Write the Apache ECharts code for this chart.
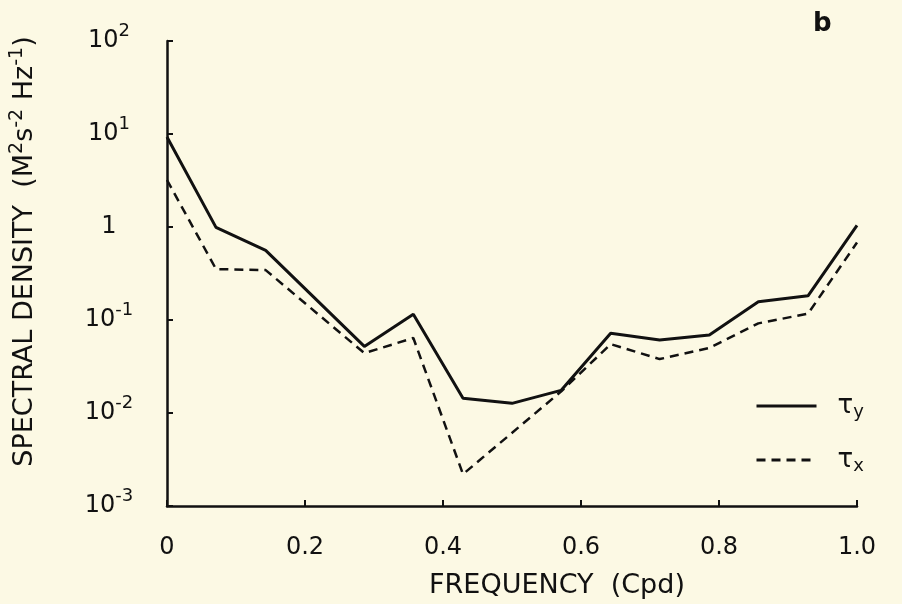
<!DOCTYPE html>
<html>
<head>
<meta charset="utf-8">
<script src="https://cdn.jsdelivr.net/npm/echarts@6/dist/echarts.min.js"></script>
<style>
  html, body { margin: 0; padding: 0; background: #fcf9e4; }
  #spectrumChart { width: 902px; height: 604px; }
</style>
</head>
<body>
<div id="spectrumChart"></div>
<script>
// frequencies (cpd) and spectral densities
var freqY = [0, 0.071, 0.143, 0.286, 0.357, 0.429, 0.5, 0.571, 0.643, 0.714, 0.786, 0.857, 0.929, 1.0];
var tauY = [9.3, 0.99, 0.56, 0.052, 0.115, 0.0144, 0.0127, 0.0175, 0.072, 0.061, 0.069, 0.157, 0.182, 1.04];
var freqX = [0, 0.071, 0.143, 0.286, 0.357, 0.429, 0.571, 0.643, 0.714, 0.786, 0.857, 0.929, 1.0];
var tauX = [3.2, 0.353, 0.344, 0.044, 0.064, 0.0022, 0.017, 0.055, 0.038, 0.050, 0.092, 0.117, 0.68];
var xTicks = ['0', '0.2', '0.4', '0.6', '0.8', '1.0'];

function pairs(xs, ys) {
  return xs.map(function (x, i) { return [x, ys[i]]; });
}

var ink = '#111';
var fontName = '"DejaVu Sans", sans-serif';

var spectrumChart = echarts.init(document.getElementById('spectrumChart'));
var option = {
  backgroundColor: '#fcf9e4',
  animation: false,
  textStyle: { fontFamily: fontName, color: ink },
  title: {
    text: 'b',
    left: 808,
    top: 6,
    textStyle: { fontSize: 26, fontWeight: 'bold', color: ink, fontFamily: fontName }
  },
  grid: { left: 163, right: 45, top: 41, bottom: 92 },
  legend: {
    orient: 'vertical',
    left: 750,
    top: 388,
    itemWidth: 60,
    itemHeight: 12,
    itemGap: 26,
    data: ['ty', 'tx'],
    itemStyle: { opacity: 0 },
    lineStyle: { width: 3 },
    formatter: function (name) {
      return '{t|τ}{s|' + name.charAt(1) + '}';
    },
    textStyle: {
      padding: [0, 0, 0, 16],
      rich: {
        t: { fontSize: 26, color: ink, fontFamily: fontName },
        s: { fontSize: 18, color: ink, fontFamily: fontName, padding: [12, 0, 0, 0] }
      }
    }
  },
  xAxis: {
    type: 'value',
    min: 0,
    max: 1,
    interval: 0.2,
    name: 'FREQUENCY  (Cpd)',
    nameLocation: 'middle',
    nameGap: 66,
    nameTextStyle: { fontSize: 27, color: ink, padding: [0, 0, 0, 90] },
    axisLine: { lineStyle: { color: ink, width: 2.5 } },
    axisTick: { inside: true, length: 6, lineStyle: { color: ink, width: 2 } },
    axisLabel: {
      margin: 30,
      fontSize: 24,
      color: ink,
      formatter: function (v) { return xTicks[Math.round(v / 0.2)]; }
    },
    splitLine: { show: false }
  },
  yAxis: {
    type: 'log',
    logBase: 10,
    min: 0.001,
    max: 100,
    name: 'SPECTRAL DENSITY  (M{p|2}s{p|-2} Hz{p|-1})',
    nameLocation: 'middle',
    nameGap: 126,
    nameTextStyle: {
      fontSize: 27,
      color: ink,
      padding: [0, 0, 0, 44],
      rich: {
        p: { fontSize: 19, color: ink, padding: [0, 0, 14, 0] }
      }
    },
    axisLine: { show: true, lineStyle: { color: ink, width: 2.5 } },
    axisTick: { inside: true, length: 6, lineStyle: { color: ink, width: 2 } },
    axisLabel: {
      margin: 58,
      align: 'center',
      formatter: function (v) {
        var e = Math.round(Math.log10(v));
        return e === 0 ? '{b|1}' : '{b|10}{s|' + e + '}';
      },
      rich: {
        b: { fontSize: 24, color: ink, fontFamily: fontName },
        s: { fontSize: 18, color: ink, fontFamily: fontName, padding: [0, 0, 20, 0] }
      }
    },
    splitLine: { show: false }
  },
  series: [
    {
      name: 'ty',
      type: 'line',
      data: pairs(freqY, tauY),
      symbol: 'none',
      itemStyle: { color: ink },
      lineStyle: { color: ink, width: 3 }
    },
    {
      name: 'tx',
      type: 'line',
      data: pairs(freqX, tauX),
      symbol: 'none',
      itemStyle: { color: ink },
      lineStyle: { color: ink, width: 2.5, type: [9, 6] }
    }
  ]
};
spectrumChart.setOption(option);
</script>
</body>
</html>
